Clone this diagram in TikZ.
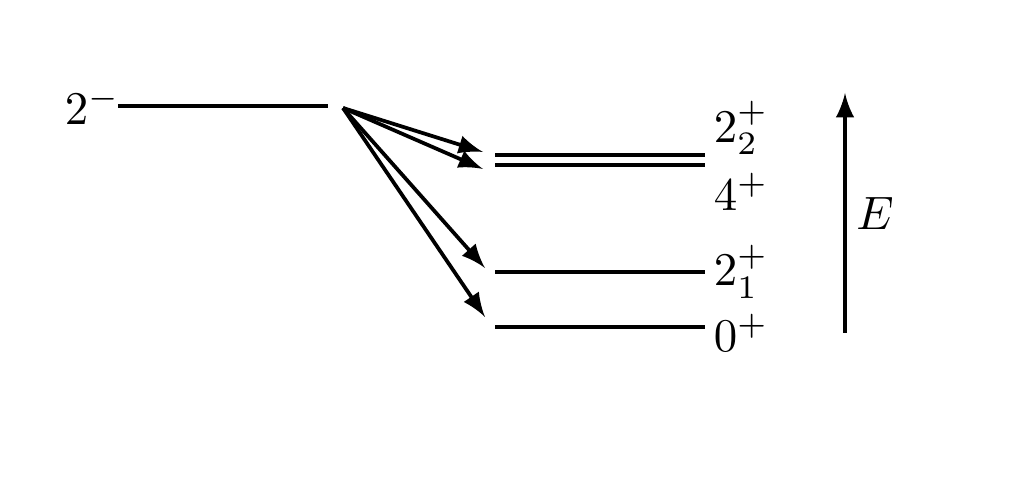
\documentclass[tikz,border=0pt]{standalone}
\usepackage{amsmath}
\usepackage{amssymb}
\usetikzlibrary{positioning}
\begin{document}
\begin{tikzpicture}[thick]
\useasboundingbox (0,0) rectangle (7.68,3.6375);
\def\xa{0.885};
\def\xb{2.46};
\def\xc{3.7125};
\def\xd{5.2875};
\coordinate (G2ma) at (\xa,2.8425);
\coordinate (G2mb) at (\xb,2.8425);
\coordinate (X22a) at (\xc,2.475);
\coordinate (X22b) at (\xd,2.475);
\coordinate (X4a) at (\xc,2.4);
\coordinate (X4b) at (\xd,2.4);
\coordinate (X21a) at (\xc,1.5975);
\coordinate (X21b) at (\xd,1.5975);
\coordinate (X0a) at (\xc,1.185);
\coordinate (X0b) at (\xd,1.185);
\coordinate (S) at (2.5725,2.8275);
\coordinate (T22) at (3.6225,2.4975);
\coordinate (T4) at (3.6225,2.37);
\coordinate (T21) at (3.6375,1.6275);
\coordinate (T0) at (3.6375,1.26);
\coordinate (Ebot) at (6.3375,1.14);
\coordinate (Etop) at (6.3375,2.94);
\node[left=-0.8pt of G2ma, inner sep=0pt] (L2m) {$2^-$};
\node[above right=-1.3pt and 0.5pt of X22b, inner sep=1pt] (L22) {$2_2^+$};
\node[below right=0.4pt and 0.5pt of X4b, inner sep=1pt] (L4) {$4^+$};
\node[right=0.5pt of X21b, inner sep=1pt] (L21) {$2_1^+$};
\node[right=0.5pt of X0b, inner sep=1pt, yshift=-1.3pt] (L0) {$0^+$};
\draw (G2ma) -- (G2mb);
\draw (X22a) -- (X22b);
\draw (X4a) -- (X4b);
\draw (X21a) -- (X21b);
\draw (X0a) -- (X0b);
\draw[-latex] (S) -- (T22);
\draw[-latex] (S) -- (T4);
\draw[-latex] (S) -- (T21);
\draw[-latex] (S) -- (T0);
\draw[-latex] (Ebot) -- (Etop) node[midway,right,inner sep=2pt] (LE) {$E$};
\end{tikzpicture}
\end{document}
